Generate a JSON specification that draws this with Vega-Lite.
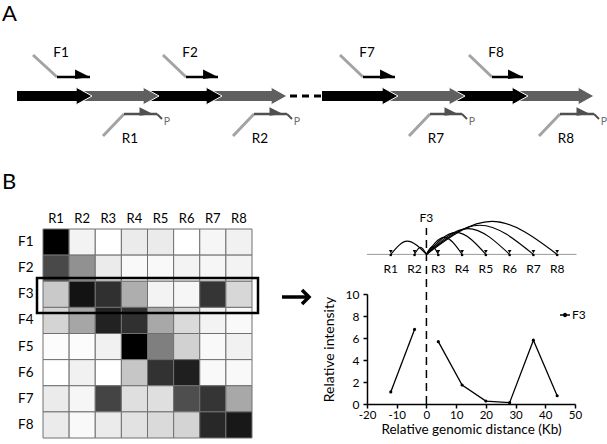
{
  "$schema": "https://vega.github.io/schema/vega-lite/v6.json",
  "width": 607,
  "height": 444,
  "padding": 0,
  "autosize": {"type": "none"},
  "background": "white",
  "config": {"font": "Lato", "view": {"stroke": null}},
  "datasets": {
    "genes": [
      {"seg": 1, "start": 17, "end": 92, "kind": "odd"},
      {"seg": 2, "start": 92, "end": 159, "kind": "even"},
      {"seg": 3, "start": 159, "end": 222, "kind": "odd"},
      {"seg": 4, "start": 222, "end": 287, "kind": "even"},
      {"seg": 5, "start": 322, "end": 398, "kind": "odd"},
      {"seg": 6, "start": 398, "end": 465, "kind": "even"},
      {"seg": 7, "start": 465, "end": 528, "kind": "odd"},
      {"seg": 8, "start": 528, "end": 594, "kind": "even"}
    ],
    "gap": [{"start": 290, "end": 322}],
    "fprimers": [
      {"p": "F1", "a": 33, "b": 57, "c": 90},
      {"p": "F2", "a": 163, "b": 186, "c": 218},
      {"p": "F7", "a": 340, "b": 363, "c": 395},
      {"p": "F8", "a": 469, "b": 492, "c": 523}
    ],
    "rprimers": [
      {"p": "R1", "a": 103, "b": 124, "c": 157},
      {"p": "R2", "a": 233, "b": 254, "c": 287},
      {"p": "R7", "a": 409, "b": 430, "c": 462},
      {"p": "R8", "a": 539, "b": 560, "c": 594}
    ],
    "panels": [{"label": "A", "px": 2, "py": 21}, {"label": "B", "px": 2, "py": 189}],
    "box": [{"x1": 37, "x2": 258, "y1": 278, "y2": 313}],
    "pointer": [{"from": 282, "to": 309, "at": 297}],
    "matrix": [
      {"F": "F1", "R": "R1", "v": 1.0}, {"F": "F1", "R": "R2", "v": 0.04}, {"F": "F1", "R": "R3", "v": 0.0}, {"F": "F1", "R": "R4", "v": 0.07},
      {"F": "F1", "R": "R5", "v": 0.07}, {"F": "F1", "R": "R6", "v": 0.0}, {"F": "F1", "R": "R7", "v": 0.03}, {"F": "F1", "R": "R8", "v": 0.05},
      {"F": "F2", "R": "R1", "v": 0.69}, {"F": "F2", "R": "R2", "v": 0.4}, {"F": "F2", "R": "R3", "v": 0.07}, {"F": "F2", "R": "R4", "v": 0.02},
      {"F": "F2", "R": "R5", "v": 0.02}, {"F": "F2", "R": "R6", "v": 0.04}, {"F": "F2", "R": "R7", "v": 0.03}, {"F": "F2", "R": "R8", "v": 0.04},
      {"F": "F3", "R": "R1", "v": 0.19}, {"F": "F3", "R": "R2", "v": 0.94}, {"F": "F3", "R": "R3", "v": 0.8}, {"F": "F3", "R": "R4", "v": 0.29},
      {"F": "F3", "R": "R5", "v": 0.04}, {"F": "F3", "R": "R6", "v": 0.03}, {"F": "F3", "R": "R7", "v": 0.78}, {"F": "F3", "R": "R8", "v": 0.14},
      {"F": "F4", "R": "R1", "v": 0.15}, {"F": "F4", "R": "R2", "v": 0.32}, {"F": "F4", "R": "R3", "v": 0.87}, {"F": "F4", "R": "R4", "v": 0.8},
      {"F": "F4", "R": "R5", "v": 0.31}, {"F": "F4", "R": "R6", "v": 0.13}, {"F": "F4", "R": "R7", "v": 0.04}, {"F": "F4", "R": "R8", "v": 0.02},
      {"F": "F5", "R": "R1", "v": 0.01}, {"F": "F5", "R": "R2", "v": 0.01}, {"F": "F5", "R": "R3", "v": 0.05}, {"F": "F5", "R": "R4", "v": 1.0},
      {"F": "F5", "R": "R5", "v": 0.47}, {"F": "F5", "R": "R6", "v": 0.16}, {"F": "F5", "R": "R7", "v": 0.02}, {"F": "F5", "R": "R8", "v": 0.05},
      {"F": "F6", "R": "R1", "v": 0.0}, {"F": "F6", "R": "R2", "v": 0.05}, {"F": "F6", "R": "R3", "v": 0.0}, {"F": "F6", "R": "R4", "v": 0.2},
      {"F": "F6", "R": "R5", "v": 0.79}, {"F": "F6", "R": "R6", "v": 0.88}, {"F": "F6", "R": "R7", "v": 0.02}, {"F": "F6", "R": "R8", "v": 0.02},
      {"F": "F7", "R": "R1", "v": 0.07}, {"F": "F7", "R": "R2", "v": 0.03}, {"F": "F7", "R": "R3", "v": 0.71}, {"F": "F7", "R": "R4", "v": 0.11},
      {"F": "F7", "R": "R5", "v": 0.11}, {"F": "F7", "R": "R6", "v": 0.67}, {"F": "F7", "R": "R7", "v": 0.78}, {"F": "F7", "R": "R8", "v": 0.31},
      {"F": "F8", "R": "R1", "v": 0.07}, {"F": "F8", "R": "R2", "v": 0.02}, {"F": "F8", "R": "R3", "v": 0.07}, {"F": "F8", "R": "R4", "v": 0.1},
      {"F": "F8", "R": "R5", "v": 0.13}, {"F": "F8", "R": "R6", "v": 0.15}, {"F": "F8", "R": "R7", "v": 0.84}, {"F": "F8", "R": "R8", "v": 0.92}
    ],
    "profile": [
      {"R": "R1", "dist": -12, "rel": 1.1, "part": "left", "series": "F3"},
      {"R": "R2", "dist": -4, "rel": 6.78, "part": "left", "series": "F3"},
      {"R": "R3", "dist": 4, "rel": 5.67, "part": "right", "series": "F3"},
      {"R": "R4", "dist": 12, "rel": 1.73, "part": "right", "series": "F3"},
      {"R": "R5", "dist": 20, "rel": 0.27, "part": "right", "series": "F3"},
      {"R": "R6", "dist": 28, "rel": 0.12, "part": "right", "series": "F3"},
      {"R": "R7", "dist": 36, "rel": 5.8, "part": "right", "series": "F3"},
      {"R": "R8", "dist": 44, "rel": 0.75, "part": "right", "series": "F3"}
    ],
    "arcs": [
      {"arc": "R1", "ax": 0, "ay": 13.6}, {"arc": "R1", "ax": -6.5, "ay": 14.8}, {"arc": "R1", "ax": -12, "ay": 13.6},
      {"arc": "R2", "ax": 0, "ay": 13.6}, {"arc": "R2", "ax": -2, "ay": 14.25}, {"arc": "R2", "ax": -4, "ay": 13.6},
      {"arc": "R3", "ax": 0, "ay": 13.6}, {"arc": "R3", "ax": 2, "ay": 14.3}, {"arc": "R3", "ax": 4, "ay": 13.6},
      {"arc": "R4", "ax": 0, "ay": 13.6}, {"arc": "R4", "ax": 6, "ay": 15.15}, {"arc": "R4", "ax": 12, "ay": 13.6},
      {"arc": "R5", "ax": 0, "ay": 13.6}, {"arc": "R5", "ax": 10, "ay": 15.6}, {"arc": "R5", "ax": 20, "ay": 13.6},
      {"arc": "R6", "ax": 0, "ay": 13.6}, {"arc": "R6", "ax": 14, "ay": 15.95}, {"arc": "R6", "ax": 28, "ay": 13.6},
      {"arc": "R7", "ax": 0, "ay": 13.6}, {"arc": "R7", "ax": 18, "ay": 16.25}, {"arc": "R7", "ax": 36, "ay": 13.6},
      {"arc": "R8", "ax": 0, "ay": 13.6}, {"arc": "R8", "ax": 22, "ay": 16.6}, {"arc": "R8", "ax": 44, "ay": 13.6}
    ]
  },
  "resolve": {"scale": {"x": "independent", "y": "independent", "color": "independent"}},
  "layer": [
    {
      "data": {"name": "matrix"},
      "mark": {"type": "rect", "stroke": "#707070", "strokeWidth": 1},
      "encoding": {
        "x": {
          "field": "R", "type": "nominal",
          "scale": {"domain": ["R1", "R2", "R3", "R4", "R5", "R6", "R7", "R8"], "range": [43, 252], "paddingInner": 0, "paddingOuter": 0},
          "axis": {"orient": "top", "offset": -229, "domain": false, "ticks": false, "labelPadding": 4, "labelFontSize": 13, "labelAngle": 0, "labelColor": "black", "title": null}
        },
        "y": {
          "field": "F", "type": "nominal",
          "scale": {"domain": ["F1", "F2", "F3", "F4", "F5", "F6", "F7", "F8"], "range": [229, 438], "paddingInner": 0, "paddingOuter": 0},
          "axis": {"orient": "left", "offset": -43, "domain": false, "ticks": false, "labelPadding": 10, "labelFontSize": 13.5, "labelColor": "black", "title": null}
        },
        "color": {"field": "v", "type": "quantitative", "scale": {"domain": [0, 1], "range": ["#ffffff", "#000000"]}, "legend": null}
      }
    },
    {
      "layer": [
        {
          "data": {"name": "genes"},
          "transform": [{"filter": "datum.seg == 1 || datum.seg == 5"}],
          "mark": {"type": "rule", "strokeWidth": 10, "strokeCap": "butt", "x2Offset": -12},
          "encoding": {
            "x": {"field": "start", "type": "quantitative", "scale": {"domain": [0, 607], "range": [0, 607], "nice": false, "zero": false}, "axis": null},
            "x2": {"field": "end"},
            "y": {"datum": 96, "type": "quantitative", "scale": {"domain": [0, 444], "range": [0, 444], "nice": false, "zero": false}, "axis": null},
            "color": {"field": "kind", "type": "nominal", "scale": {"domain": ["odd", "even"], "range": ["#000000", "#5f5f5f"]}, "legend": null}
          }
        },
        {
          "data": {"name": "genes"},
          "transform": [{"filter": "datum.seg != 1 && datum.seg != 5"}],
          "mark": {"type": "rule", "strokeWidth": 10, "strokeCap": "butt", "xOffset": -12, "x2Offset": -12},
          "encoding": {
            "x": {"field": "start", "type": "quantitative", "axis": null},
            "x2": {"field": "end"},
            "y": {"datum": 96, "type": "quantitative", "axis": null},
            "color": {"field": "kind", "type": "nominal", "legend": null}
          }
        },
        {
          "data": {"name": "genes"},
          "mark": {"type": "point", "filled": true, "shape": "M-1.8,-1L0,0L-1.8,1", "size": 289, "stroke": "white", "strokeWidth": 1, "opacity": 1},
          "encoding": {
            "x": {"field": "end", "type": "quantitative", "axis": null},
            "y": {"datum": 96, "type": "quantitative", "axis": null},
            "fill": {"field": "kind", "type": "nominal", "scale": {"domain": ["odd", "even"], "range": ["#000000", "#5f5f5f"]}, "legend": null}
          }
        },
        {
          "data": {"name": "gap"},
          "mark": {"type": "rule", "strokeWidth": 3, "strokeDash": [7, 5], "color": "black", "strokeCap": "butt"},
          "encoding": {
            "x": {"field": "start", "type": "quantitative", "axis": null},
            "x2": {"field": "end"},
            "y": {"datum": 96, "type": "quantitative", "axis": null}
          }
        },
        {
          "data": {"name": "fprimers"},
          "mark": {"type": "rule", "strokeWidth": 3, "color": "#a3a3a3"},
          "encoding": {
            "x": {"field": "a", "type": "quantitative", "axis": null},
            "x2": {"field": "b"},
            "y": {"datum": 55, "type": "quantitative", "axis": null},
            "y2": {"datum": 77}
          }
        },
        {
          "data": {"name": "fprimers"},
          "mark": {"type": "rule", "strokeWidth": 2.5, "color": "black"},
          "encoding": {
            "x": {"field": "b", "type": "quantitative", "axis": null},
            "x2": {"field": "c"},
            "y": {"datum": 77, "type": "quantitative", "axis": null}
          }
        },
        {
          "data": {"name": "fprimers"},
          "mark": {"type": "point", "filled": true, "shape": "M0,0L-2.2,-1.1L-2.2,0.3Z", "size": 185, "color": "black", "opacity": 1},
          "encoding": {
            "x": {"field": "c", "type": "quantitative", "axis": null},
            "y": {"datum": 77, "type": "quantitative", "axis": null}
          }
        },
        {
          "data": {"name": "fprimers"},
          "mark": {"type": "text", "fontSize": 13.5, "dx": 4, "color": "black"},
          "encoding": {
            "x": {"field": "b", "type": "quantitative", "axis": null},
            "y": {"datum": 53, "type": "quantitative", "axis": null},
            "text": {"field": "p"}
          }
        },
        {
          "data": {"name": "rprimers"},
          "mark": {"type": "rule", "strokeWidth": 3, "color": "#a3a3a3"},
          "encoding": {
            "x": {"field": "a", "type": "quantitative", "axis": null},
            "x2": {"field": "b"},
            "y": {"datum": 136, "type": "quantitative", "axis": null},
            "y2": {"datum": 114}
          }
        },
        {
          "data": {"name": "rprimers"},
          "mark": {"type": "rule", "strokeWidth": 2.5, "color": "#505050"},
          "encoding": {
            "x": {"field": "b", "type": "quantitative", "axis": null},
            "x2": {"field": "c"},
            "y": {"datum": 114, "type": "quantitative", "axis": null}
          }
        },
        {
          "data": {"name": "rprimers"},
          "mark": {"type": "rule", "strokeWidth": 2, "color": "#505050", "x2Offset": 5},
          "encoding": {
            "x": {"field": "c", "type": "quantitative", "axis": null},
            "x2": {"field": "c"},
            "y": {"datum": 114, "type": "quantitative", "axis": null},
            "y2": {"datum": 119}
          }
        },
        {
          "data": {"name": "rprimers"},
          "mark": {"type": "point", "filled": true, "shape": "M0,0L-2.2,-1.1L-2.2,0.3Z", "size": 150, "color": "#505050", "opacity": 1, "xOffset": -4},
          "encoding": {
            "x": {"field": "c", "type": "quantitative", "axis": null},
            "y": {"datum": 114, "type": "quantitative", "axis": null}
          }
        },
        {
          "data": {"name": "rprimers"},
          "mark": {"type": "text", "fontSize": 10.5, "dx": 10, "color": "#707070"},
          "encoding": {
            "x": {"field": "c", "type": "quantitative", "axis": null},
            "y": {"datum": 122, "type": "quantitative", "axis": null},
            "text": {"value": "P"}
          }
        },
        {
          "data": {"name": "rprimers"},
          "mark": {"type": "text", "fontSize": 13.5, "dx": 6, "color": "black"},
          "encoding": {
            "x": {"field": "b", "type": "quantitative", "axis": null},
            "y": {"datum": 139, "type": "quantitative", "axis": null},
            "text": {"field": "p"}
          }
        },
        {
          "data": {"name": "panels"},
          "mark": {"type": "text", "fontSize": 22, "align": "left", "baseline": "alphabetic", "color": "black"},
          "encoding": {
            "x": {"field": "px", "type": "quantitative", "axis": null},
            "y": {"field": "py", "type": "quantitative", "axis": null},
            "text": {"field": "label"}
          }
        },
        {
          "data": {"name": "box"},
          "mark": {"type": "rect", "filled": false, "stroke": "black", "strokeWidth": 2.5},
          "encoding": {
            "x": {"field": "x1", "type": "quantitative", "axis": null},
            "x2": {"field": "x2"},
            "y": {"field": "y1", "type": "quantitative", "axis": null},
            "y2": {"field": "y2"}
          }
        },
        {
          "data": {"name": "pointer"},
          "mark": {"type": "rule", "strokeWidth": 3.5, "color": "black"},
          "encoding": {
            "x": {"field": "from", "type": "quantitative", "axis": null},
            "x2": {"field": "to"},
            "y": {"field": "at", "type": "quantitative", "axis": null}
          }
        },
        {
          "data": {"name": "pointer"},
          "mark": {"type": "point", "filled": false, "shape": "M-1,-1L0,0L-1,1", "size": 196, "color": "black", "strokeWidth": 3.5, "opacity": 1},
          "encoding": {
            "x": {"field": "to", "type": "quantitative", "axis": null},
            "y": {"field": "at", "type": "quantitative", "axis": null}
          }
        }
      ]
    },
    {
      "layer": [
        {
          "data": {"name": "profile"},
          "mark": {"type": "line", "strokeWidth": 1.3},
          "encoding": {
            "x": {
              "field": "dist", "type": "quantitative",
              "scale": {"domain": [-20, 50], "range": [367, 575], "nice": false, "zero": false},
              "axis": {"orient": "bottom", "offset": -40, "values": [-20, -10, 0, 10, 20, 30, 40, 50], "title": "Relative genomic distance (Kb)", "titleFontSize": 13.5, "titleFontWeight": "normal", "titleColor": "black", "titlePadding": 2, "labelFontSize": 11.5, "labelColor": "black", "labelPadding": 1, "domainColor": "black", "domainWidth": 1.5, "tickColor": "black", "tickWidth": 1.5, "tickSize": 4, "grid": false, "labelExpr": "'' + datum.value", "labelFlush": false, "labelOverlap": false}
            },
            "y": {
              "field": "rel", "type": "quantitative",
              "scale": {"domain": [0, 10], "range": [404, 294], "nice": false, "zero": false},
              "axis": {"orient": "left", "offset": -367, "values": [0, 2, 4, 6, 8, 10], "title": "Relative intensity", "titleFontSize": 14, "titleFontWeight": "normal", "titleColor": "black", "titlePadding": 9, "labelFontSize": 12, "labelColor": "black", "labelPadding": 4, "domainColor": "black", "domainWidth": 1.5, "tickColor": "black", "tickWidth": 1.5, "tickSize": 4, "grid": false, "labelOverlap": false}
            },
            "detail": {"field": "part"},
            "color": {
              "field": "series", "type": "nominal",
              "scale": {"domain": ["F3"], "range": ["#000000"]},
              "legend": {"orient": "none", "legendX": 559, "legendY": 309, "title": null, "symbolType": "M-1,0L1,0M0.3,0A0.3,0.3,0,1,1,-0.3,0A0.3,0.3,0,1,1,0.3,0", "symbolSize": 100, "symbolStrokeWidth": 1.3, "labelFontSize": 12, "labelColor": "black", "labelOffset": 1, "padding": 0}
            }
          }
        },
        {
          "data": {"name": "profile"},
          "mark": {"type": "point", "filled": true, "size": 10, "color": "black", "opacity": 1},
          "encoding": {
            "x": {"field": "dist", "type": "quantitative"},
            "y": {"field": "rel", "type": "quantitative"}
          }
        },
        {
          "data": {"name": "profile"},
          "transform": [{"filter": "datum.R == 'R1'"}],
          "mark": {"type": "rule", "strokeWidth": 1.5, "strokeDash": [8, 5], "color": "black"},
          "encoding": {
            "x": {"datum": 0, "type": "quantitative"},
            "y": {"datum": 0, "type": "quantitative"},
            "y2": {"datum": 16.0}
          }
        },
        {
          "data": {"name": "profile"},
          "transform": [{"filter": "datum.R == 'R1'"}],
          "mark": {"type": "rule", "strokeWidth": 1, "color": "#9a9a9a"},
          "encoding": {
            "x": {"datum": -20, "type": "quantitative"},
            "x2": {"datum": 50.5},
            "y": {"datum": 13.6, "type": "quantitative"}
          }
        },
        {
          "data": {"name": "arcs"},
          "mark": {"type": "line", "interpolate": "monotone", "strokeWidth": 1.2, "color": "black"},
          "encoding": {
            "x": {"field": "ax", "type": "quantitative"},
            "y": {"field": "ay", "type": "quantitative"},
            "detail": {"field": "arc"}
          }
        },
        {
          "data": {"name": "profile"},
          "mark": {"type": "point", "filled": true, "shape": "triangle-down", "size": 14, "color": "black", "opacity": 1},
          "encoding": {
            "x": {"field": "dist", "type": "quantitative"},
            "y": {"datum": 13.85, "type": "quantitative"}
          }
        },
        {
          "data": {"name": "profile"},
          "mark": {"type": "point", "filled": true, "shape": "circle", "size": 7, "color": "black", "opacity": 1},
          "encoding": {
            "x": {"field": "dist", "type": "quantitative"},
            "y": {"datum": 13.55, "type": "quantitative"}
          }
        },
        {
          "data": {"name": "profile"},
          "mark": {"type": "text", "fontSize": 12, "color": "black"},
          "encoding": {
            "x": {"field": "dist", "type": "quantitative"},
            "y": {"datum": 12.27, "type": "quantitative"},
            "text": {"field": "R"}
          }
        },
        {
          "data": {"name": "profile"},
          "transform": [{"filter": "datum.R == 'R1'"}],
          "mark": {"type": "text", "fontSize": 12, "color": "black"},
          "encoding": {
            "x": {"datum": 0, "type": "quantitative"},
            "y": {"datum": 16.9, "type": "quantitative"},
            "text": {"field": "series"}
          }
        }
      ]
    }
  ]
}
